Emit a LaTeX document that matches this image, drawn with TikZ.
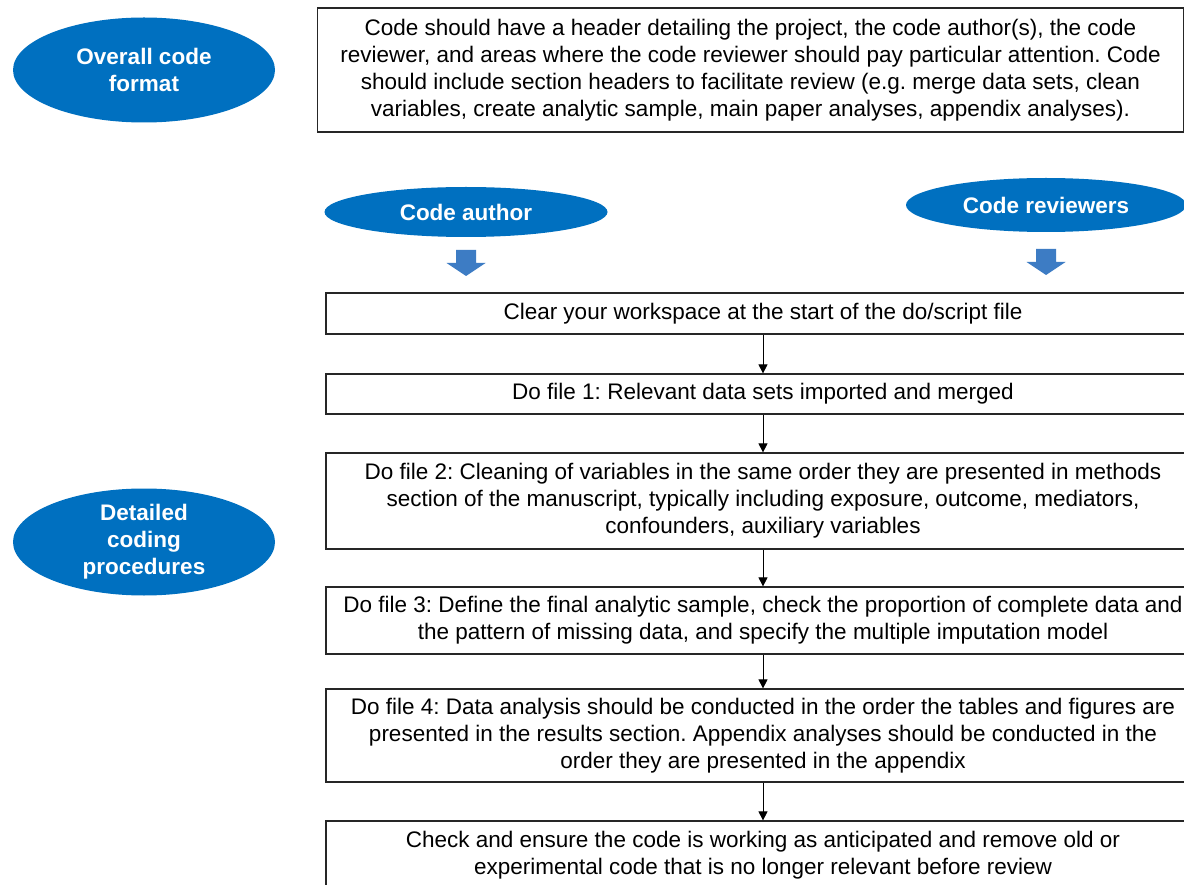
\documentclass[tikz,border=0pt]{standalone}
\usepackage{fontspec}
\setmainfont{Liberation Sans}
\usepackage{tikz}
\usetikzlibrary{shapes.geometric, arrows.meta}
\definecolor{ovalblue}{HTML}{0070C0}
\definecolor{arrowblue}{HTML}{3D7CC4}
\frenchspacing
\tikzset{
  oval/.style = {ellipse, fill=ovalblue, text=white, inner sep=0pt,
    font=\fontsize{22.5}{27}\selectfont\bfseries, align=center},
  stepbox/.style = {rectangle, draw=black!85, line width=1.2pt, inner sep=0pt,
    font=\fontsize{22.5}{27}\selectfont, align=center},
  flow/.style = {-{Triangle[length=9pt,width=9pt]}, line width=0.8pt},
  bigarrow/.pic = {\fill[arrowblue] (-10,0) -- (10,0) -- (10,13) -- (19.5,13)
    -- (0,26) -- (-19.5,13) -- (-10,13) -- cycle;}
}

\begin{document}
\begin{tikzpicture}[x=1pt, y=-1pt]
\useasboundingbox (0,0) rectangle (1184,885);
\clip (0,0) rectangle (1184,885);
\fill[white] (0,0) rectangle (1184,885);

\node[oval, minimum width=262, minimum height=105] (format) at (144,70) {Overall code\\format};
\node[oval, minimum width=262, minimum height=107] (detail) at (144,542) {Detailed\\coding\\procedures};
\node[stepbox, minimum width=866, minimum height=124] (header) at (750.5,70)
  {Code should have a header detailing the project, the code author(s), the code\\
   reviewer, and areas where the code reviewer should pay particular attention. Code\\
   should include section headers to facilitate review (e.g. merge data sets, clean\\
   variables, create analytic sample, main paper analyses, appendix analyses).};

\node[oval, minimum width=283, minimum height=50] (author) at (466,212) {Code author};
\node[oval, minimum width=280, minimum height=54] (reviewer) at (1046,205) {Code reviewers};
\pic at (466,250) {bigarrow};
\pic at (1046,249) {bigarrow};

\node[stepbox, minimum width=874, minimum height=41] (b1) at (763,313.5)
  {Clear your workspace at the start of the do/script file};
\node[stepbox, minimum width=874, minimum height=40] (b2) at (763,394)
  {Do file 1: Relevant data sets imported and merged};
\node[stepbox, minimum width=874, minimum height=96] (b3) at (763,501)
  {Do file 2: Cleaning of variables in the same order they are presented in methods\\
   section of the manuscript, typically including exposure, outcome, mediators,\\
   confounders, auxiliary variables};
\node[stepbox, minimum width=874, minimum height=67] (b4) at (763,620.5)
  {Do file 3: Define the final analytic sample, check the proportion of complete data and\\
   the pattern of missing data, and specify the multiple imputation model};
\node[stepbox, minimum width=874, minimum height=93] (b5) at (763,735.5)
  {Do file 4: Data analysis should be conducted in the order the tables and figures are\\
   presented in the results section. Appendix analyses should be conducted in the\\
   order they are presented in the appendix};
\node[stepbox, minimum width=874, minimum height=68] (b6) at (763,855)
  {Check and ensure the code is working as anticipated and remove old or\\
   experimental code that is no longer relevant before review};

\draw[flow] (b1) -- (b2);
\draw[flow] (b2) -- (b3);
\draw[flow] (b3) -- (b4);
\draw[flow] (b4) -- (b5);
\draw[flow] (b5) -- (b6);
\end{tikzpicture}
\end{document}
